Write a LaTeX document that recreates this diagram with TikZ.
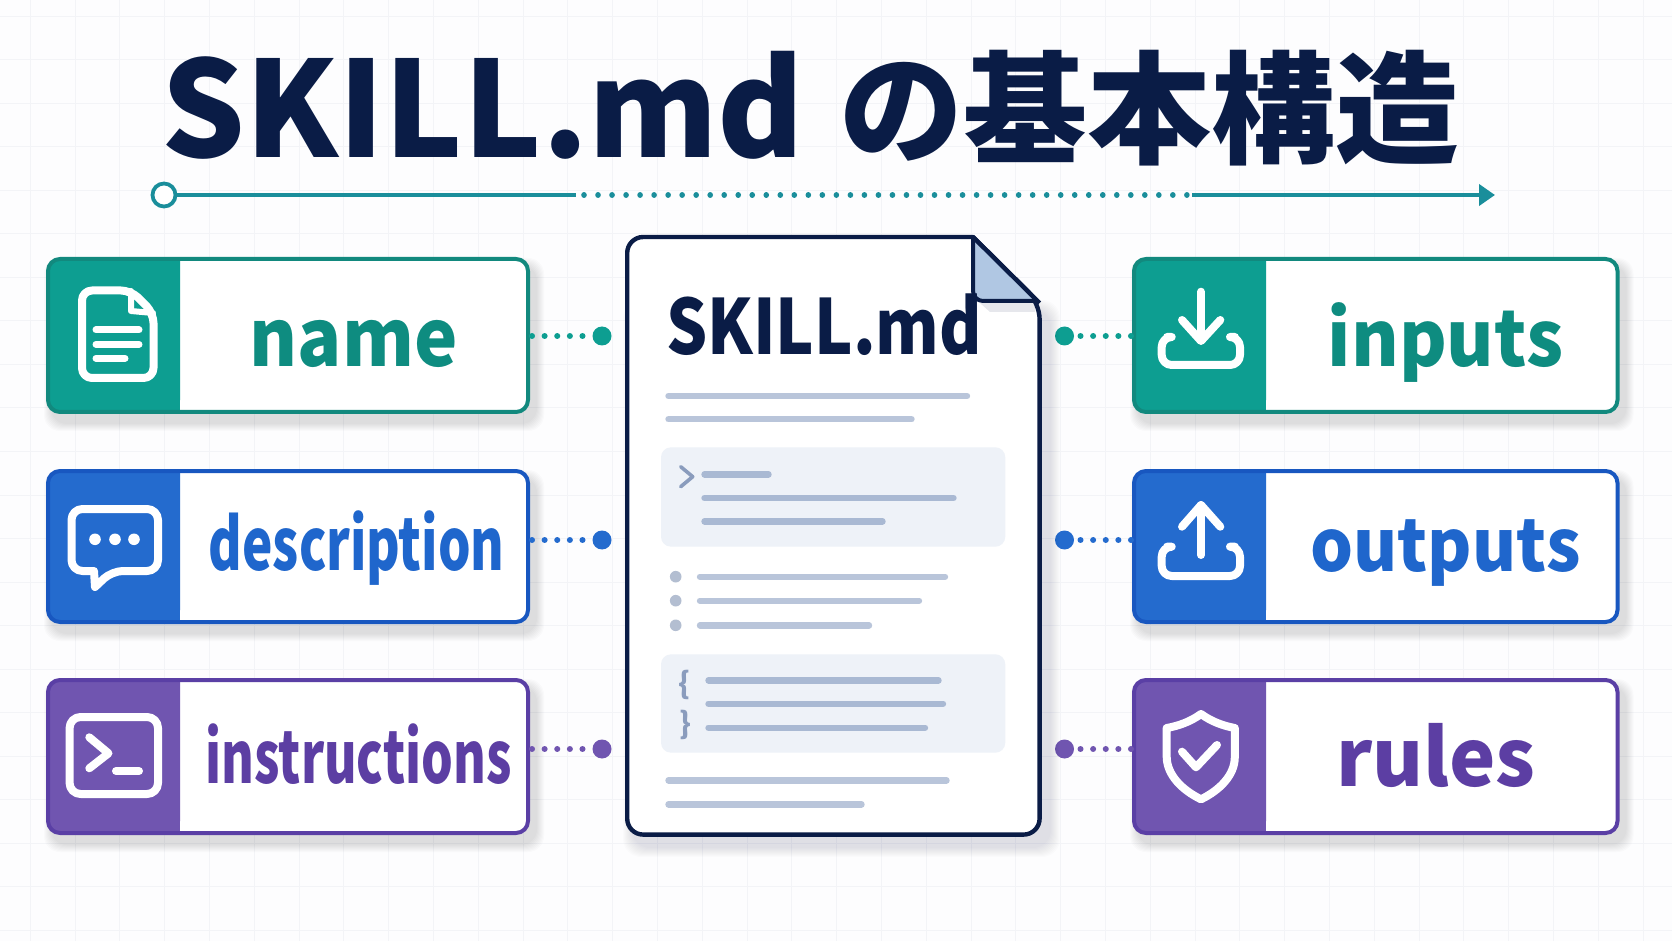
\documentclass[tikz,border=0pt]{standalone}
\usepackage{graphicx}
\usepackage{fontspec}
\setmainfont{Noto Sans CJK JP}
\usetikzlibrary{arrows.meta}
\definecolor{navy}{HTML}{0A1C46}
\definecolor{ruleteal}{HTML}{1A8E9B}
\definecolor{tealPanel}{HTML}{0D9E91}
\definecolor{tealEdge}{HTML}{12897E}
\definecolor{tealText}{HTML}{0E8C80}
\definecolor{bluePanel}{HTML}{246BCE}
\definecolor{blueEdge}{HTML}{1857C0}
\definecolor{blueText}{HTML}{1F66CC}
\definecolor{purplePanel}{HTML}{7055B0}
\definecolor{purpleEdge}{HTML}{5A3FA5}
\definecolor{purpleText}{HTML}{5C3EA3}
\definecolor{docline}{HTML}{B9C5DA}
\definecolor{codeline}{HTML}{A9B9D3}
\definecolor{codebox}{HTML}{EEF2F8}
\definecolor{foldblue}{HTML}{B0C7E3}
\definecolor{gridline}{HTML}{F3F4F7}
\definecolor{pagebg}{HTML}{FDFDFE}
\definecolor{glyphgrey}{HTML}{8A9CBD}
\newsavebox{\fitbox}
\newcommand{\fitw}[2]{\sbox{\fitbox}{#2}\pgfmathsetmacro{\fitr}{#1/\the\wd\fitbox}\scalebox{\fitr}[1]{\usebox{\fitbox}}}
\tikzset{
  x=0.5pt,y=-0.5pt,
  icon/.style={draw=white,line width=4pt,line cap=round,line join=round,fill=none},
  iconthin/.style={draw=white,line width=3.5pt,line cap=round,line join=round},
  lab/.style={anchor=base,inner sep=0pt},
  dline/.style={draw=docline,line width=3.2pt,line cap=round},
  cline/.style={draw=codeline,line width=3.2pt,line cap=round},
  bul/.style={circle,fill=docline!90!gray,inner sep=0pt,minimum size=5.8pt},
  port/.style={circle,inner sep=0pt,minimum size=9.5pt},
  linkdots/.style={line width=3pt,line cap=round,dash pattern=on 0.01pt off 6.3pt},
  codepanel/.style={fill=codebox,rounded corners=5pt},
  boxframe/.style={rectangle,rounded corners=6pt,line width=2pt,inner sep=0pt,outer sep=0pt},
}
% name, x1, y1, x2, y2, split, colour (outer edges of the frame)
\newcommand{\tagbox}[7]{%
  \foreach \k in {1,...,8}{
    \fill[black,opacity=.016,rounded corners=8pt] ({#2+6-\k},{#3+9-\k}) rectangle ({#4+6+\k},{#5+9+\k});
  }
  \fill[white,rounded corners=6pt] ({#2+2},{#3+2}) rectangle ({#4-2},{#5-2});
  \fill[#7Panel,rounded corners=6pt] (#6,{#3+2}) -- ({#2+2},{#3+2}) -- ({#2+2},{#5-2}) -- (#6,{#5-2}) [sharp corners] -- cycle;
  \fill[#7Panel] ({#6-16},{#3+2}) rectangle (#6,{#5-2});
  \node[boxframe,draw=#7Edge,minimum width={(#4-#2-4)*0.5pt},minimum height={(#5-#3-4)*0.5pt}] (#1) at ({(#2+#4)/2},{(#3+#5)/2}) {};
}
\begin{document}
\begin{tikzpicture}
\useasboundingbox (0,0) rectangle (1672,941);
\fill[pagebg] (0,0) rectangle (1672,941);
\foreach \i in {0,...,37}{
  \draw[gridline,line width=.5pt] ({30.2+44.8*\i},0) -- ({30.2+44.8*\i},941);
}
\foreach \i in {0,...,21}{
  \draw[gridline,line width=.5pt] (0,{16.5+43.5*\i}) -- (1672,{16.5+43.5*\i});
}

% title
\node[lab,text=navy,font=\bfseries\fontsize{66.5pt}{67pt}\selectfont] (titleLatin) at (483,157.5) {\fitw{321.5}{SKILL.md}};
\node[lab,text=navy,font=\bfseries\fontsize{61pt}{61pt}\selectfont] (titleJp) at (1149,155) {\fitw{310}{の基本構造}};

% title rule
\node[circle,draw=ruleteal,fill=white,line width=1.9pt,inner sep=0pt,minimum size=11.5pt] (ruleStart) at (164,195) {};
\coordinate (ruleA) at (576,195);
\coordinate (ruleB) at (1192,195);
\coordinate (ruleEnd) at (1495,195);
\draw[ruleteal,line width=2pt] (ruleStart) -- (ruleA);
\draw[ruleteal,line width=2.8pt,line cap=round,dash pattern=on 0.01pt off 7pt] (ruleA) ++(8,0) -- (ruleB);
\draw[ruleteal,line width=2pt,-{Triangle[length=8pt,width=10.5pt]}] (ruleB) -- (ruleEnd);

% boxes
\tagbox{nameBox}{46}{257}{530}{414}{180}{teal}
\tagbox{descBox}{46}{469}{530}{624}{180}{blue}
\tagbox{instrBox}{46}{678}{530}{835}{180}{purple}
\tagbox{inBox}{1132}{257}{1619.5}{414}{1266}{teal}
\tagbox{outBox}{1132}{469}{1619.5}{624}{1266}{blue}
\tagbox{rulesBox}{1132}{678}{1619.5}{835}{1266}{purple}

% labels
\node[lab,text=tealText,font=\bfseries\fontsize{39.6pt}{40pt}\selectfont] (nameLab) at (353.8,366.7) {\fitw{104}{name}};
\node[lab,text=blueText,font=\bfseries\fontsize{36pt}{37pt}\selectfont] (descLab) at (356.6,570) {\fitw{148}{description}};
\node[lab,text=purpleText,font=\bfseries\fontsize{36pt}{37pt}\selectfont] (instrLab) at (358.5,783) {\fitw{153}{instructions}};
\node[lab,text=tealText,font=\bfseries\fontsize{38.5pt}{40pt}\selectfont] (inLab) at (1445.5,366.7) {\fitw{117.7}{inputs}};
\node[lab,text=blueText,font=\bfseries\fontsize{36pt}{37pt}\selectfont] (outLab) at (1445.5,571.7) {\fitw{135}{outputs}};
\node[lab,text=purpleText,font=\bfseries\fontsize{39.5pt}{41pt}\selectfont] (rulesLab) at (1436,786.7) {\fitw{99.8}{rules}};

% icons: name
\draw[icon,rounded corners=5pt] (131,290.5) -- (82,290.5) -- (82,378) -- (153.5,378) -- (153.5,313) -- cycle;
\draw[iconthin,line width=3pt] (131,291) -- (131,311) -- (153,313);
\draw[iconthin] (96,330) -- (139,330) (96,344.3) -- (139,344.3) (96,358.3) -- (125,358.3);
% icons: description
\draw[icon,rounded corners=5.5pt] (94,571) -- (71.5,571) -- (71.5,509) -- (158,509) -- (158,571) -- (112,571) [sharp corners] -- (95,587) -- (94,571);
\fill[white] (95,539.3) circle (2.9pt) (115,539.3) circle (2.9pt) (134,539.3) circle (2.9pt);
% icons: instructions
\draw[icon,rounded corners=5.5pt] (69.6,717) rectangle (158,794);
\draw[icon] (89.3,737.3) -- (108.5,753.3) -- (89.3,768.3);
\draw[icon] (116,771) -- (139,771);
% icons: inputs
\draw[icon] (1201,291.7) -- (1201,340);
\draw[icon] (1182,320) -- (1201,341) -- (1220.3,320);
\draw[icon,rounded corners=5pt] (1167,337) -- (1161.7,337) -- (1161.7,365) -- (1240,365) -- (1240,337) -- (1235,337);
% icons: outputs
\draw[icon] (1201,555) -- (1201,505);
\draw[icon] (1182,526.7) -- (1201,505) -- (1220.3,526.7);
\draw[icon,rounded corners=5pt] (1167,546.7) -- (1161.7,546.7) -- (1161.7,576) -- (1240,576) -- (1240,546.7) -- (1235,546.7);
% icons: rules
\draw[icon] (1201,714) .. controls (1190,722) and (1178,726) .. (1166.7,728) -- (1166.7,757) .. controls (1167,775) and (1182,790) .. (1201,799.3) .. controls (1220,790) and (1234.8,775) .. (1234.8,757) -- (1234.8,728) .. controls (1224,726) and (1212,722) .. (1201,714);
\draw[icon] (1182,751.7) -- (1196,767.3) -- (1217,745);

% connectors
\node[port,fill=tealPanel] (dotName) at (602,336) {};
\node[port,fill=bluePanel] (dotDesc) at (602,540) {};
\node[port,fill=purplePanel] (dotInstr) at (602,749) {};
\node[port,fill=tealPanel] (dotIn) at (1064.5,336) {};
\node[port,fill=bluePanel] (dotOut) at (1064.5,540) {};
\node[port,fill=purplePanel] (dotRules) at (1064.5,749) {};
\draw[tealPanel,linkdots] ([xshift=2pt]nameBox.east |- dotName) -- (dotName);
\draw[bluePanel,linkdots] ([xshift=2pt]descBox.east |- dotDesc) -- (dotDesc);
\draw[purplePanel,linkdots] ([xshift=2pt]instrBox.east |- dotInstr) -- (dotInstr);
\draw[tealPanel,linkdots] ([xshift=-1.5pt]inBox.west |- dotIn) -- (dotIn);
\draw[bluePanel,linkdots] ([xshift=-1.5pt]outBox.west |- dotOut) -- (dotOut);
\draw[purplePanel,linkdots] ([xshift=-1.5pt]rulesBox.west |- dotRules) -- (dotRules);

% document shadow
\foreach \k in {1,...,10}{
  \fill[navy,opacity=.012,rounded corners=9pt] ({625+8-\k},{300+10-\k}) rectangle ({1042+8+\k},{837+10+\k});
}
% document
\draw[navy,fill=white,line width=2.2pt,line join=round,rounded corners=8pt] (973,237) -- (627.2,237) -- (627.2,834.6) -- (1039.6,834.6) -- (1039.6,303) [sharp corners] -- (973,237) -- cycle;
\fill[navy,opacity=.10] (980,303) -- (1035,303) -- (1035,312) -- (990,312) -- cycle;
\fill[foldblue,rounded corners=3pt] (973,238) -- (973,301) -- (1038,301) -- cycle;
\draw[navy,line width=2pt,line join=round,rounded corners=5pt] (973,238) -- (973,301) -- (1038,301);
\draw[navy,line width=2.2pt] (973,237) -- (1039.6,303);

\node[lab,text=navy,font=\bfseries\fontsize{38pt}{38pt}\selectfont] (docTitle) at (824,355) {\fitw{158}{SKILL.md}};

\draw[dline] (668.5,396) -- (967,396);
\draw[dline] (668.5,419.3) -- (911.5,419.3);

\fill[codepanel] (661,447.3) rectangle (1005.3,546.7);
\draw[glyphgrey,line width=1.8pt,line cap=round,line join=round] (680.7,466.7) -- (692.7,476.7) -- (680.7,486.7);
\draw[cline] (704.5,474.3) -- (768.5,474.3);
\draw[cline] (704.5,498) -- (953.5,498);
\draw[cline] (704.5,521.3) -- (882.5,521.3);

\node[bul] (bulA) at (675.7,576.7) {};
\node[bul] (bulB) at (675.7,600.7) {};
\node[bul] (bulC) at (675.7,625.3) {};
\draw[dline] (700,576.7) -- (945,576.7);
\draw[dline] (700,600.7) -- (919,600.7);
\draw[dline] (700,625.3) -- (869,625.3);

\fill[codepanel] (661,654.3) rectangle (1005.3,752.7);
\node[text=glyphgrey,inner sep=0pt,font=\bfseries\fontsize{15pt}{15pt}\selectfont] (braceOpen) at (684,685) {\{};
\node[text=glyphgrey,inner sep=0pt,font=\bfseries\fontsize{15pt}{15pt}\selectfont] (braceClose) at (685,725) {\}};
\draw[cline] (708.5,680.3) -- (938.5,680.3);
\draw[cline] (708.5,703.7) -- (943,703.7);
\draw[cline] (708.5,727.7) -- (925,727.7);

\draw[dline] (668.5,780.3) -- (946.5,780.3);
\draw[dline] (668.5,804.3) -- (861.5,804.3);
\end{tikzpicture}
\end{document}
